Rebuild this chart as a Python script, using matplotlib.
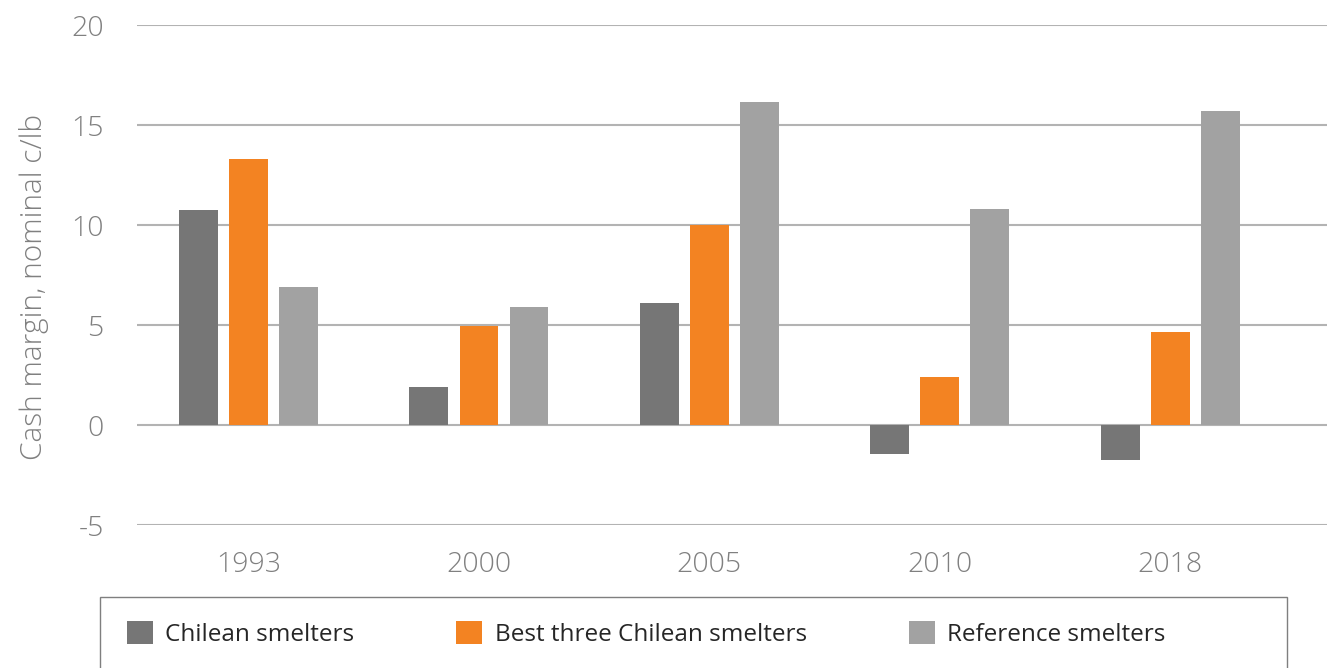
import matplotlib
matplotlib.use("Agg")
import numpy as np
import matplotlib.pyplot as plt
from matplotlib.patches import Patch, Rectangle

years = ["1993", "2000", "2005", "2010", "2018"]
chilean = [10.77, 1.9, 6.08, -1.46, -1.75]
best_three = [13.31, 4.95, 10.0, 2.42, 4.65]
reference = [6.89, 5.88, 16.15, 10.81, 15.68]

series_names = ["Chilean smelters", "Best three Chilean smelters", "Reference smelters"]
colors = ["#767676", "#F38322", "#A2A2A2"]

plt.rcParams["font.family"] = ["Open Sans", "DejaVu Sans"]
plt.rcParams["axes.unicode_minus"] = False

W, H = 1327, 668
fig = plt.figure(figsize=(W / 100, H / 100), dpi=100)
ax = fig.add_axes([137 / W, 1 - 525 / H, 1 - 137 / W, 500 / H])

x = np.arange(len(years))
width = 0.169
step = 0.217
for i, (vals, c) in enumerate(zip([chilean, best_three, reference], colors)):
    ax.bar(x + (i - 1) * step, vals, width=width, color=c, zorder=3)

ax.set_xlim(-0.484, 4.68)
ax.set_ylim(-5, 20)
ax.set_yticks([-5, 0, 5, 10, 15, 20])
ax.set_xticks(x)
ax.set_xticklabels(years)

ax.grid(axis="y", color="#B3B3B3", linewidth=1.5, zorder=0)
ax.set_axisbelow(True)
for s in ax.spines.values():
    s.set_visible(False)

ax.tick_params(axis="both", length=0, labelsize=20.5, labelcolor="#808080")
ax.tick_params(axis="y", pad=24)
ax.tick_params(axis="x", pad=19)
for lbl in ax.get_xticklabels() + ax.get_yticklabels():
    lbl.set_fontweight("light")

ax.set_ylabel("Cash margin, nominal c/lb", fontsize=21.5, color="#808080",
              fontweight="light")
ax.yaxis.set_label_coords(-0.074, 0.476)

# legend box runs off the bottom edge
fig.patches.append(Rectangle((100 / W, -0.05), 1187 / W, 0.05 + (H - 597) / H,
                             transform=fig.transFigure, fill=False,
                             edgecolor="#7f7f7f", linewidth=1.0))
handles = [Patch(facecolor=c, edgecolor="none") for c in colors]
fig.legend(handles, series_names, ncol=3, loc="center left",
           bbox_to_anchor=(127 / W, 1 - 634 / H), frameon=False,
           fontsize=17.5, labelcolor="#262626", handlelength=1.07,
           handleheight=1.1, handletextpad=0.5, columnspacing=4.2,
           borderpad=0, borderaxespad=0)

fig.savefig("out.png", dpi=100)
